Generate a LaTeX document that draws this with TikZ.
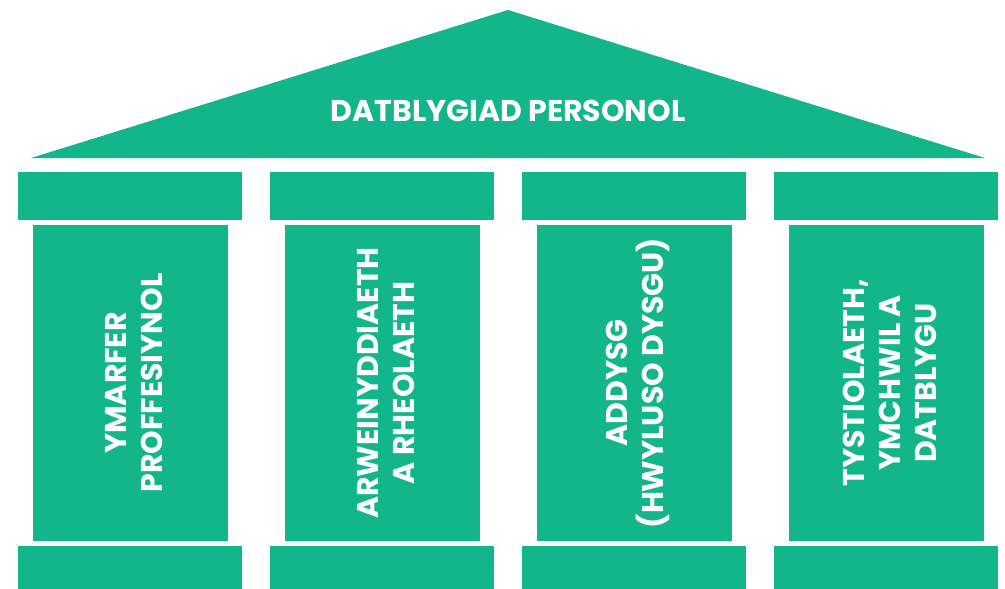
\documentclass[tikz,border=0pt]{standalone}
\usepackage{fontspec}
\setmainfont{Poppins}
\definecolor{teal}{RGB}{19,182,139}
\begin{document}
\begin{tikzpicture}[x=1pt,y=-1pt,
  block/.style={fill=teal,draw=none},
  lbl/.style={text=white,font=\fontsize{30}{36}\selectfont\bfseries,align=center,inner sep=0pt},
  vlbl/.style={lbl,rotate=90}]
\useasboundingbox (0,0) rectangle (1005,589);
% roof
\fill[teal] (31,158) -- (508,10) -- (985,158) -- cycle;
\node[lbl] (roof) at (508,111) {DATBLYGIAD PERSONOL};
% pillars
\foreach \i in {0,1,2,3}{
  \pgfmathsetmacro{\xa}{18+252*\i}
  \fill[teal] (\xa,172) rectangle ++(224,48);
  \fill[teal] (\xa+15,225) rectangle ++(195,316);
  \fill[teal] (\xa,546) rectangle ++(224,43);
}
\node[vlbl] (p1) at (134,383) {YMARFER\\PROFFESIYNOL};
\node[vlbl] (p2) at (386,383) {ARWEINYDDIAETH\\A RHEOLAETH};
\node[vlbl] (p3) at (638,383) {ADDYSG\\(HWYLUSO DYSGU)};
\node[vlbl] (p4) at (890,383) {TYSTIOLAETH,\\YMCHWIL A\\DATBLYGU};
\end{tikzpicture}
\end{document}
